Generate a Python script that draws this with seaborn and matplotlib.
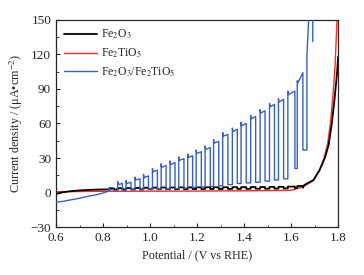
import numpy as np
import pandas as pd
import matplotlib
matplotlib.use("Agg")
import matplotlib.pyplot as plt
from matplotlib.ticker import MultipleLocator
import seaborn as sns

# chopped-light LSV, values
chop_on = [0.825, 0.862, 0.898, 0.936, 0.972, 1.010, 1.047, 1.085, 1.122, 1.160, 1.196,
           1.234, 1.270, 1.309, 1.350, 1.387, 1.428, 1.468, 1.508, 1.546, 1.586, 1.626]
chop_off = [0.845, 0.882, 0.919, 0.957, 0.993, 1.031, 1.068, 1.106, 1.144, 1.181, 1.218,
            1.256, 1.292, 1.331, 1.371, 1.409, 1.449, 1.489, 1.529, 1.568, 1.616, 1.650]

# Fe2O3/Fe2TiO5 (blue)
blue_start_v = [0.60, 0.63, 0.66, 0.70, 0.74, 0.77, 0.80, 0.815]
blue_start_i = [-8.3, -7.5, -6.3, -4.8, -3.0, -1.8, -0.3, 0.8]
blue_dark = [1.5, 2.0, 2.0, 2.5, 2.5, 3.0, 3.0, 3.0, 3.5, 4.0, 4.5,
             5.0, 5.5, 6.0, 7.0, 8.0, 8.5, 9.0, 10.0, 11.0, 12.0, 21.0]
blue_peak = [3.5, 9.5, 10.5, 13.5, 16.0, 21.0, 25.0, 27.5, 31.0, 33.5, 37.0,
             40.5, 46.0, 52.0, 56.0, 61.0, 67.0, 72.0, 77.5, 81.5, 88.0, 97.0]
blue_plat = [2.5, 7.0, 8.0, 11.0, 13.0, 18.0, 22.0, 24.5, 28.0, 30.5, 34.0,
             37.5, 43.0, 49.0, 53.0, 58.0, 64.0, 69.0, 74.5, 78.5, 85.0, 95.0]
blue_plat_end = [3.0, 8.0, 9.0, 12.0, 14.5, 19.5, 23.5, 26.0, 29.5, 32.0, 35.5,
                 39.0, 44.5, 50.5, 55.0, 60.0, 66.0, 71.0, 76.5, 81.0, 88.0, 104.0]
blue_tail_v = [1.650, 1.667, 1.667, 1.678, 1.692, 1.692]
blue_tail_i = [37.0, 37.0, 118.0, 165.0, 165.0, 131.0]

# Fe2O3 (black)
black_start_v = [0.60, 0.62, 0.65, 0.70, 0.75, 0.80]
black_start_i = [-1.0, 0.0, 1.0, 2.0, 2.5, 2.8]
black_dark = [2.8, 2.8, 2.9, 2.9, 3.0, 3.0, 3.0, 3.0, 3.1, 3.1, 3.1,
              3.2, 3.2, 3.2, 3.3, 3.3, 3.4, 3.4, 3.5, 3.6, 3.8, 4.2]
black_light = [3.8, 3.9, 4.0, 4.1, 4.3, 4.4, 4.5, 4.5, 4.6, 4.6, 4.6,
               4.7, 4.7, 4.7, 4.8, 4.8, 4.9, 4.9, 5.0, 5.1, 5.3, 5.8]
black_tail_v = [1.655, 1.695, 1.722, 1.745, 1.760, 1.773, 1.784, 1.795, 1.800]
black_tail_i = [6.5, 11.0, 20.0, 31.0, 42.0, 60.0, 80.0, 103.0, 118.0]

# Fe2TiO5 (red)
red_v = [0.60, 0.70, 0.80, 1.00, 1.20, 1.40, 1.60, 1.65, 1.695, 1.72, 1.74,
         1.755, 1.768, 1.778, 1.787, 1.795, 1.80]
red_i = [0.8, 1.0, 1.2, 1.3, 1.4, 1.6, 2.0, 5.0, 10.5, 19.0, 30.0,
         42.0, 62.0, 85.0, 110.0, 150.0, 175.0]

# build the chopped traces
bv, bi = list(blue_start_v), list(blue_start_i)
for k in range(len(chop_on)):
    bv += [chop_on[k], chop_on[k], chop_on[k] + 0.002, chop_off[k], chop_off[k]]
    bi += [blue_dark[k], blue_peak[k], blue_plat[k], blue_plat_end[k],
           blue_dark[k + 1] if k + 1 < len(blue_dark) else blue_tail_i[0]]
bv += blue_tail_v
bi += blue_tail_i

kv, ki = list(black_start_v), list(black_start_i)
for k in range(len(chop_on)):
    kv += [chop_on[k], chop_on[k], chop_off[k], chop_off[k]]
    ki += [black_dark[k], black_light[k], black_light[k], black_dark[k]]
kv += black_tail_v
ki += black_tail_i

df_blue = pd.DataFrame({"V": bv, "J": bi})
df_black = pd.DataFrame({"V": kv, "J": ki})
df_red = pd.DataFrame({"V": red_v, "J": red_i})

sns.set_style("ticks")
plt.rcParams["font.family"] = ["Liberation Serif", "DejaVu Serif"]
plt.rcParams["mathtext.fontset"] = "stix"
plt.rcParams["font.size"] = 8

fig = plt.figure(figsize=(3.64, 2.75), dpi=100)
ax = fig.add_axes([0.154, 0.1735, 0.775, 0.755])

sns.lineplot(data=df_black, x="V", y="J", sort=False, estimator=None, color="black",
             linewidth=1.3, label=r"Fe$_2$O$_3$", ax=ax, zorder=3)
sns.lineplot(data=df_red, x="V", y="J", sort=False, estimator=None, color="#ff2a1a",
             linewidth=1.0, label=r"Fe$_2$TiO$_5$", ax=ax, zorder=2)
sns.lineplot(data=df_blue, x="V", y="J", sort=False, estimator=None, color="#3560c8",
             linewidth=1.0, label=r"Fe$_2$O$_3$/Fe$_2$TiO$_5$", ax=ax, zorder=4)

ax.set_xlim(0.6, 1.8)
ax.set_ylim(-30, 150)
ax.xaxis.set_major_locator(MultipleLocator(0.2))
ax.xaxis.set_minor_locator(MultipleLocator(0.1))
ax.yaxis.set_major_locator(MultipleLocator(30))
ax.yaxis.set_minor_locator(MultipleLocator(15))
ax.xaxis.set_major_formatter(plt.FuncFormatter(lambda v, p: f"{v:.1f}"))
ax.tick_params(which="both", direction="in", labelsize=9.5)
ax.tick_params(which="major", length=3)
ax.tick_params(which="minor", length=1.8)
for s in ax.spines.values():
    s.set_linewidth(0.9)

ax.set_xlabel("Potential / (V vs RHE)", fontsize=8.7)
ax.set_ylabel("Current density / (μA•cm$^{-2}$)", fontsize=8.7)

ax.legend(loc="upper left", frameon=False, fontsize=8.5, handlelength=2.8,
          handletextpad=0.3, labelspacing=0.45, borderaxespad=0.3)

fig.savefig("out.png", dpi=100)
